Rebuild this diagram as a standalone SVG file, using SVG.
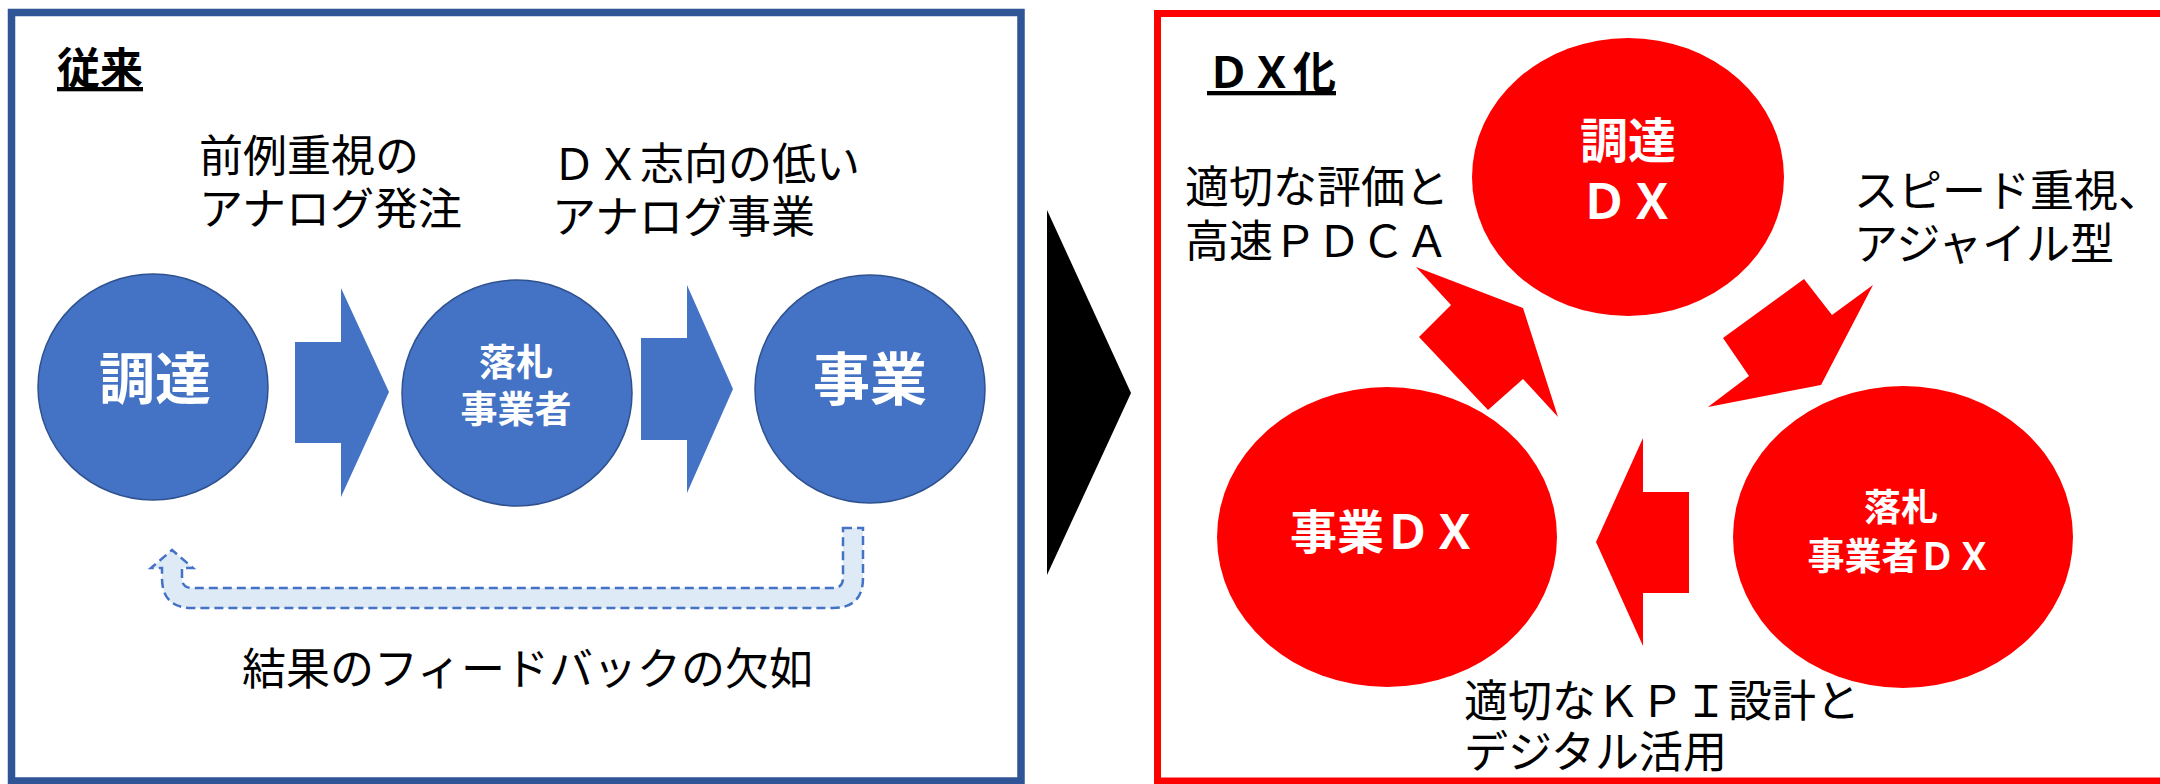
<svg xmlns="http://www.w3.org/2000/svg" width="2160" height="784" viewBox="0 0 2160 784">
<style>
text{font-family:"Noto Sans CJK JP","Noto Sans CJK SC",sans-serif;}
.lbl{font-size:44px;fill:#000;}
.title{font-size:43px;font-weight:bold;fill:#000;text-decoration:underline;}
.wb{font-weight:bold;fill:#fff;text-anchor:middle;}
.bc{fill:#4472C4;stroke:#2F528F;stroke-width:1.5;}
.rc{fill:#FF0000;}
.ba{fill:#4472C4;}
.ra{fill:#FF0000;}
</style>
<rect width="2160" height="784" fill="#fff"/>
<g id="panel-left">
<rect x="11.5" y="12.5" width="1009.5" height="768.5" fill="none" stroke="#2F5597" stroke-width="7.5"/>
<text class="title" x="57" y="84">従来</text>
</g>
<g id="panel-right">
<rect x="1157.5" y="13.5" width="1012" height="767.5" fill="none" stroke="#FF0000" stroke-width="7"/>
<text class="title" x="1207" y="88">ＤＸ化</text>
</g>
<g id="label-analog-order">
<text class="lbl" x="199" y="172">前例重視の</text>
<text class="lbl" x="199" y="225">アナログ発注</text>
</g>
<g id="label-analog-business">
<text class="lbl" x="552" y="180">ＤＸ志向の低い</text>
<text class="lbl" x="552" y="233">アナログ事業</text>
</g>
<g id="label-feedback">
<text class="lbl" x="242" y="685">結果のフィードバックの欠如</text>
</g>
<g id="node-procure">
<ellipse class="bc" cx="153" cy="387" rx="115" ry="113"/>
<text class="wb" x="155" y="399" font-size="56">調達</text>
</g>
<g id="node-bidder">
<ellipse class="bc" cx="517" cy="393" rx="115" ry="113"/>
<text class="wb" x="516" y="376" font-size="37">落札</text>
<text class="wb" x="516" y="423" font-size="37">事業者</text>
</g>
<g id="node-business">
<ellipse class="bc" cx="870" cy="389" rx="115" ry="114"/>
<text class="wb" x="870" y="400" font-size="57">事業</text>
</g>
<g id="node-procure-dx">
<ellipse class="rc" cx="1628" cy="177" rx="156" ry="139"/>
<text class="wb" x="1628" y="158" font-size="48">調達</text>
<text class="wb" x="1628" y="219" font-size="48">ＤＸ</text>
</g>
<g id="node-business-dx">
<ellipse class="rc" cx="1387" cy="537" rx="170" ry="150"/>
<text class="wb" x="1384" y="549" font-size="47">事業ＤＸ</text>
</g>
<g id="node-bidder-dx">
<ellipse class="rc" cx="1903" cy="537" rx="170" ry="151"/>
<text class="wb" x="1901" y="521" font-size="37">落札</text>
<text class="wb" x="1900" y="570" font-size="37">事業者ＤＸ</text>
</g>
<g id="label-pdca">
<text class="lbl" x="1185" y="203">適切な評価と</text>
<text class="lbl" x="1185" y="257">高速ＰＤＣＡ</text>
</g>
<g id="label-agile">
<text class="lbl" x="1854" y="207">スピード重視、</text>
<text class="lbl" x="1854" y="260">アジャイル型</text>
</g>
<g id="label-kpi">
<text class="lbl" x="1464" y="717">適切なＫＰＩ設計と</text>
<text class="lbl" x="1464" y="768">デジタル活用</text>
</g>
<g id="connectors">
<polygon class="ba" points="295,342 341,342 341,288 389,392 341,497 341,443 295,443"/>
<polygon class="ba" points="641,338 687,338 687,285 733,389 687,493 687,440 641,440"/>
<path d="M843,528 H863 V578 Q863,608 833,608 H192 Q162,608 162,578 V568 H151 L172,550 L193,568 H182 V578 Q182,588 192,588 H833 Q843,588 843,578 Z" fill="#DEEBF7" stroke="#4472C4" stroke-width="2.5" stroke-dasharray="9 5"/>
<polygon fill="#000" points="1047,210 1131,393 1047,575"/>
<polygon class="ra" points="1523,308 1416,267 1451,305 1419,337 1488,410 1523,379 1558,417"/>
<polygon class="ra" points="1821,385 1873,285 1832,315 1804,279 1723,338 1749,376 1708,407"/>
<polygon class="ra" points="1596,542 1643,438 1643,492 1689,492 1689,593 1643,593 1643,646"/>
</g>
</svg>
